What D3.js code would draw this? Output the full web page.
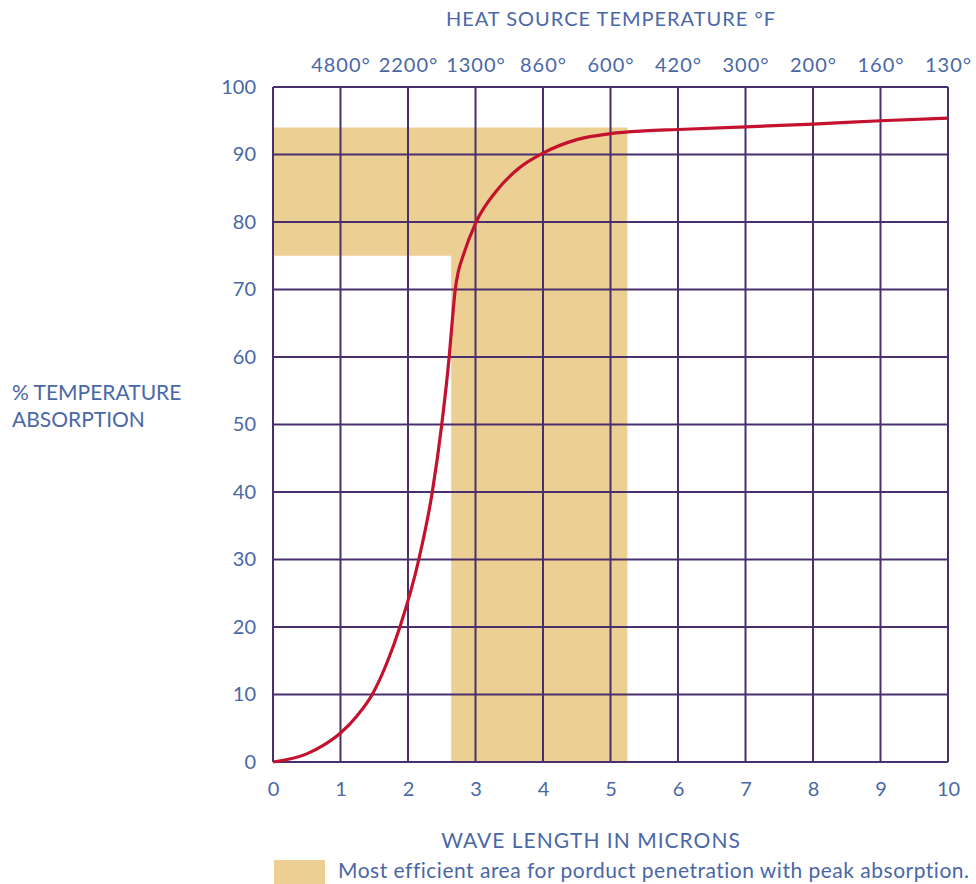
<!DOCTYPE html>
<html>
<head>
<meta charset="utf-8">
<script src="https://cdn.jsdelivr.net/npm/d3@7"></script>
<style>
  html, body { margin: 0; padding: 0; background: #ffffff; }
  svg { display: block; }
  text { font-family: Lato, "Open Sans", sans-serif; fill: #4a67a6; }
</style>
</head>
<body>
<svg id="chart" width="976" height="884"></svg>
<script>
// Absorption curve: wavelength (microns) vs % temperature absorption
const wavelength = [0, 0.5, 0.75, 1, 1.25, 1.47, 1.7, 1.88, 2.16, 2.36, 2.5, 2.61, 2.67, 2.70, 2.74, 2.81, 3, 3.31, 3.66, 4, 4.5, 5, 5.5, 6, 7, 8, 9, 10];
const absorption = [0, 1.2, 2.5, 4.3, 6.9, 10, 15.0, 20, 30, 40, 50, 60, 67, 70, 72.4, 74.8, 79.8, 84.6, 88.1, 90.2, 92.2, 93.1, 93.5, 93.7, 94.1, 94.5, 95.0, 95.4];

// Tick labels
const micronTicks = [0, 1, 2, 3, 4, 5, 6, 7, 8, 9, 10];
const percentTicks = [0, 10, 20, 30, 40, 50, 60, 70, 80, 90, 100];
const tempTickPositions = [1, 2, 3, 4, 5, 6, 7, 8, 9, 10];
const tempTickLabels = ["4800°", "2200°", "1300°", "860°", "600°", "420°", "300°", "200°", "160°", "130°"];

// Most efficient zone (L-shaped): wavelength band plus upper absorption band
const zoneWaveStart = 2.64;
const zoneWaveEnd = 5.25;
const zoneTop = 94;
const zoneBandBottom = 75;

const svg = d3.select("#chart");
const plotLeft = 273, plotRight = 948, plotTop = 87, plotBottom = 762;

const x = d3.scaleLinear().domain([0, 10]).range([plotLeft, plotRight]);
const y = d3.scaleLinear().domain([0, 100]).range([plotBottom, plotTop]);

const gridColor = "#4a2f6e";
const zoneColor = "#eccf93";
const textColor = "#4a67a6";

// Shaded zone
const zonePoly = [
  [0, zoneTop], [zoneWaveEnd, zoneTop], [zoneWaveEnd, 0],
  [zoneWaveStart, 0], [zoneWaveStart, zoneBandBottom], [0, zoneBandBottom]
];
svg.append("path")
  .attr("d", d3.line().x(d => x(d[0])).y(d => y(d[1]))(zonePoly) + "Z")
  .attr("fill", zoneColor);

// Grid
svg.append("g").selectAll("line").data(micronTicks).join("line")
  .attr("x1", d => x(d)).attr("x2", d => x(d))
  .attr("y1", y(0)).attr("y2", y(100))
  .attr("stroke", gridColor).attr("stroke-width", 2);
svg.append("g").selectAll("line").data(percentTicks).join("line")
  .attr("x1", x(0)).attr("x2", x(10))
  .attr("y1", d => y(d)).attr("y2", d => y(d))
  .attr("stroke", gridColor).attr("stroke-width", 2);

// Curve
svg.append("path")
  .datum(wavelength.map((w, i) => [w, absorption[i]]))
  .attr("d", d3.line().x(d => x(d[0])).y(d => y(d[1])).curve(d3.curveMonotoneX))
  .attr("fill", "none")
  .attr("stroke", "#c3112e")
  .attr("stroke-width", 3.2)
  .attr("stroke-linejoin", "round");

// Axes (labels only)
const bottomAxis = svg.append("g")
  .attr("transform", `translate(0,${plotBottom})`)
  .call(d3.axisBottom(x).tickValues(micronTicks).tickSize(0).tickPadding(20).tickFormat(d3.format("d")));
const topAxis = svg.append("g")
  .attr("transform", `translate(0,${plotTop})`)
  .call(d3.axisTop(x).tickValues(tempTickPositions).tickSize(0).tickPadding(15)
    .tickFormat((d, i) => tempTickLabels[i]));
const leftAxis = svg.append("g")
  .attr("transform", `translate(${plotLeft},0)`)
  .call(d3.axisLeft(y).tickValues(percentTicks).tickSize(0).tickPadding(17).tickFormat(d3.format("d")));

[bottomAxis, topAxis, leftAxis].forEach(g => {
  g.select(".domain").remove();
  g.selectAll("text").attr("font-size", "20px").attr("fill", textColor)
    .attr("font-family", "Lato, 'Open Sans', sans-serif");
});
topAxis.selectAll("text").attr("letter-spacing", "1px");

// Titles
svg.append("text")
  .attr("x", 611).attr("y", 26)
  .attr("text-anchor", "middle")
  .attr("font-size", "20px")
  .attr("letter-spacing", "1px")
  .text("HEAT SOURCE TEMPERATURE °F");

svg.append("text")
  .attr("x", 591).attr("y", 848)
  .attr("text-anchor", "middle")
  .attr("font-size", "21px")
  .attr("letter-spacing", "1px")
  .text("WAVE LENGTH IN MICRONS");

const yTitle = svg.append("text").attr("font-size", "21px");
yTitle.append("tspan").attr("x", 12).attr("y", 400).text("% TEMPERATURE");
yTitle.append("tspan").attr("x", 12).attr("y", 427).text("ABSORPTION");

// Legend
svg.append("rect")
  .attr("x", 274).attr("y", 860).attr("width", 51).attr("height", 24)
  .attr("fill", zoneColor);
svg.append("text")
  .attr("x", 338).attr("y", 878)
  .attr("font-size", "21px")
  .attr("letter-spacing", "0.5px")
  .text("Most efficient area for porduct penetration with peak absorption.");
</script>
</body>
</html>
